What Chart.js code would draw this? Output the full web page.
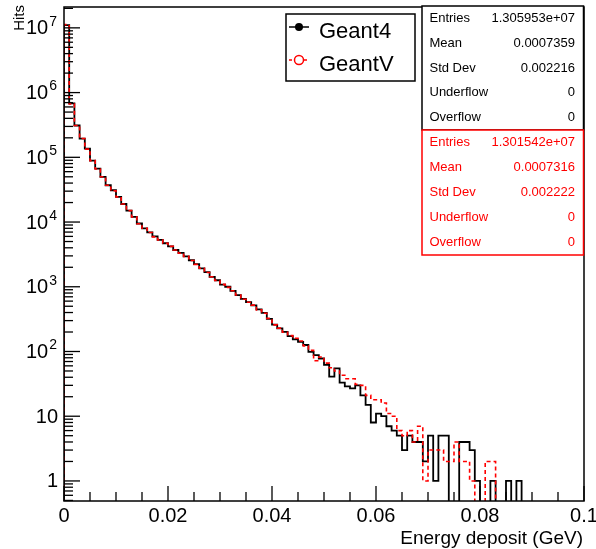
<!DOCTYPE html>
<html>
<head>
<meta charset="utf-8">
<script src="https://cdn.jsdelivr.net/npm/chart.js@4.4.1/dist/chart.umd.min.js"></script>
<style>
  html, body { margin: 0; padding: 0; background: #fff; }
</style>
</head>
<body>
<canvas id="myChart" width="596" height="549"></canvas>
<script>
// histogram: 100 bins of 0.001 GeV from 0 to 0.1
const binWidth = 0.001;

const geant4Hits = [
  1.1e7, 6.8e5, 3.1e5, 1.95e5, 1.36e5, 8.9e4, 6.7e4, 5.0e4, 3.7e4, 3.1e4,
  2.45e4, 1.9e4, 1.5e4, 1.2e4, 9.5e3, 8.0e3, 6.9e3, 6.0e3, 5.3e3, 4.7e3,
  4.2e3, 3.7e3, 3.35e3, 2.95e3, 2.57e3, 2.23e3, 1.92e3, 1.68e3, 1.42e3, 1.26e3,
  1080, 1000, 864, 741, 651, 578, 514, 446, 395, 320,
  260, 227, 201, 173, 154, 141, 126, 99, 88, 78,
  62, 41, 55, 33, 29, 27, 30, 21, 15, 8,
  11, 10, 7, 6, 5, 3, 5, 4, 4, 2,
  5, 1, 5, 5, 0, 0, 4, 4, 3, 1,
  0, 0, 1, 0, 0, 1, 0, 1, 0, 0,
  0, 0, 0, 0, 0, 0, 0, 0, 0, 0
];

const geantVHits = [
  1.12e7, 6.7e5, 3.1e5, 1.95e5, 1.34e5, 8.9e4, 6.6e4, 5.0e4, 3.7e4, 3.05e4,
  2.45e4, 1.9e4, 1.5e4, 1.2e4, 9.4e3, 8.0e3, 6.9e3, 5.9e3, 5.3e3, 4.7e3,
  4.2e3, 3.7e3, 3.3e3, 2.95e3, 2.55e3, 2.22e3, 1.93e3, 1.66e3, 1.43e3, 1.25e3,
  1090, 980, 870, 745, 640, 575, 520, 440, 390, 325,
  258, 230, 198, 176, 160, 145, 122, 104, 72, 82,
  66, 56, 50, 43, 38, 38, 31, 30, 21, 18,
  18, 16, 11, 10, 6, 5, 6, 4, 7, 1,
  3, 3, 3, 2, 2, 4, 2, 2, 1, 0,
  0, 2, 2, 0, 0, 0, 0, 0, 0, 0,
  0, 0, 0, 0, 0, 0, 0, 0, 0, 0
];

const xTickValues = [0, 0.02, 0.04, 0.06, 0.08, 0.1];
const xTickLabels = ['0', '0.02', '0.04', '0.06', '0.08', '0.1'];
const yDecades = [0, 1, 2, 3, 4, 5, 6, 7];

const statLabels = ['Entries', 'Mean', 'Std Dev', 'Underflow', 'Overflow'];
const geant4Stats = ['1.305953e+07', '0.0007359', '0.002216', '0', '0'];
const geantVStats = ['1.301542e+07', '0.0007316', '0.002222', '0', '0'];

const FONT = '"Liberation Sans", Arial, Helvetica, sans-serif';

// turn bin contents into step points (left edges), empty bins go below the axis
function histPoints(counts) {
  const floor = 0.05;
  const pts = [{ x: 0, y: floor }];
  counts.forEach((c, i) => pts.push({ x: i * binWidth, y: c > 0 ? c : floor }));
  pts.push({ x: counts.length * binWidth, y: floor });
  return pts;
}

const rootFrame = {
  id: 'rootFrame',
  afterDraw(chart) {
    const ctx = chart.ctx;
    const xs = chart.scales.x;
    const ys = chart.scales.y;
    const a = chart.chartArea;
    ctx.save();

    // frame
    ctx.strokeStyle = '#000';
    ctx.lineWidth = 1.5;
    ctx.strokeRect(a.left, a.top, a.right - a.left, a.bottom - a.top);

    // x ticks (inside)
    ctx.lineWidth = 1.3;
    for (let k = 0; k <= 20; k++) {
      const px = xs.getPixelForValue(k * 0.005);
      const len = k % 4 === 0 ? 15 : 9;
      ctx.beginPath();
      ctx.moveTo(px, a.bottom);
      ctx.lineTo(px, a.bottom - len);
      ctx.stroke();
    }
    // y ticks (inside)
    for (let d = -1; d <= 7; d++) {
      for (let m = 1; m <= 9; m++) {
        const v = m * Math.pow(10, d);
        if (v < ys.min || v > ys.max) continue;
        const py = ys.getPixelForValue(v);
        const len = m === 1 ? 16 : 9;
        ctx.beginPath();
        ctx.moveTo(a.left, py);
        ctx.lineTo(a.left + len, py);
        ctx.stroke();
      }
    }

    // x labels
    ctx.fillStyle = '#000';
    ctx.font = '20px ' + FONT;
    ctx.textAlign = 'center';
    ctx.textBaseline = 'alphabetic';
    xTickValues.forEach((v, i) => {
      ctx.fillText(xTickLabels[i], xs.getPixelForValue(v), a.bottom + 21);
    });

    // y labels
    ctx.textBaseline = 'middle';
    yDecades.forEach(d => {
      const py = ys.getPixelForValue(Math.pow(10, d)) + 1;
      if (d === 0) {
        ctx.font = '20px ' + FONT;
        ctx.textAlign = 'right';
        ctx.fillText('1', 58, py);
      } else if (d === 1) {
        ctx.font = '20px ' + FONT;
        ctx.textAlign = 'right';
        ctx.fillText('10', 58, py);
      } else {
        ctx.font = '14px ' + FONT;
        const ew = ctx.measureText(String(d)).width;
        ctx.textAlign = 'left';
        ctx.fillText(String(d), 57 - ew, py - 7);
        ctx.font = '20px ' + FONT;
        ctx.textAlign = 'right';
        ctx.fillText('10', 56 - ew, py);
      }
    });

    // axis titles
    ctx.font = '19px ' + FONT;
    ctx.textAlign = 'right';
    ctx.textBaseline = 'alphabetic';
    ctx.fillText('Energy deposit (GeV)', 583, 544);

    ctx.save();
    ctx.translate(20, 5);
    ctx.rotate(-Math.PI / 2);
    ctx.font = '15px ' + FONT;
    ctx.textAlign = 'right';
    ctx.textBaseline = 'middle';
    ctx.fillText('Hits', 0, 0);
    ctx.restore();

    // legend
    ctx.lineWidth = 1.5;
    ctx.fillStyle = '#fff';
    ctx.fillRect(286, 14, 129, 67);
    ctx.strokeStyle = '#000';
    ctx.strokeRect(286, 14, 129, 67);

    ctx.beginPath();
    ctx.moveTo(289, 27); ctx.lineTo(309, 27);
    ctx.stroke();
    ctx.fillStyle = '#000';
    ctx.beginPath();
    ctx.arc(299, 27, 4, 0, Math.PI * 2);
    ctx.fill();

    ctx.strokeStyle = '#ff0000';
    ctx.setLineDash([3, 2]);
    ctx.beginPath();
    ctx.moveTo(289, 60); ctx.lineTo(309, 60);
    ctx.stroke();
    ctx.setLineDash([]);
    ctx.fillStyle = '#fff';
    ctx.beginPath();
    ctx.arc(299, 60, 4.5, 0, Math.PI * 2);
    ctx.fill();
    ctx.stroke();

    ctx.fillStyle = '#000';
    ctx.font = '22px ' + FONT;
    ctx.textAlign = 'left';
    ctx.textBaseline = 'alphabetic';
    ctx.fillText('Geant4', 319, 37.5);
    ctx.fillText('GeantV', 319, 70.5);

    // stats boxes
    function statsBox(top, bottom, color, values) {
      ctx.fillStyle = '#fff';
      ctx.fillRect(422, top, 161.5, bottom - top);
      ctx.strokeStyle = color;
      ctx.lineWidth = 1.5;
      ctx.strokeRect(422, top, 161.5, bottom - top);
      ctx.fillStyle = color;
      ctx.font = '13px ' + FONT;
      ctx.textBaseline = 'middle';
      const step = (bottom - top) / statLabels.length;
      statLabels.forEach((lab, i) => {
        const cy = top + step * (i + 0.5);
        ctx.textAlign = 'left';
        ctx.fillText(lab, 429.5, cy);
        ctx.textAlign = 'right';
        ctx.fillText(values[i], 575, cy);
      });
    }
    statsBox(6, 130, '#000', geant4Stats);
    statsBox(130, 255, '#ff0000', geantVStats);

    ctx.restore();
  }
};

const data = {
  datasets: [
    {
      label: 'GeantV',
      data: histPoints(geantVHits),
      borderColor: '#ff0000',
      borderWidth: 1.6,
      borderDash: [4, 3],
      stepped: 'before',
      pointRadius: 0,
      fill: false,
      order: 0
    },
    {
      label: 'Geant4',
      data: histPoints(geant4Hits),
      borderColor: '#000000',
      borderWidth: 1.8,
      stepped: 'before',
      pointRadius: 0,
      fill: false,
      order: 1
    }
  ]
};

const config = {
  type: 'line',
  data: data,
  options: {
    responsive: false,
    animation: false,
    layout: { padding: { left: 64, top: 7, right: 12, bottom: 48 } },
    plugins: { legend: { display: false }, tooltip: { enabled: false } },
    scales: {
      x: { type: 'linear', min: 0, max: 0.1, display: false },
      y: { type: 'logarithmic', min: 0.49, max: 2.1e7, display: false }
    }
  },
  plugins: [rootFrame]
};

new Chart(document.getElementById('myChart'), config);
</script>
</body>
</html>
